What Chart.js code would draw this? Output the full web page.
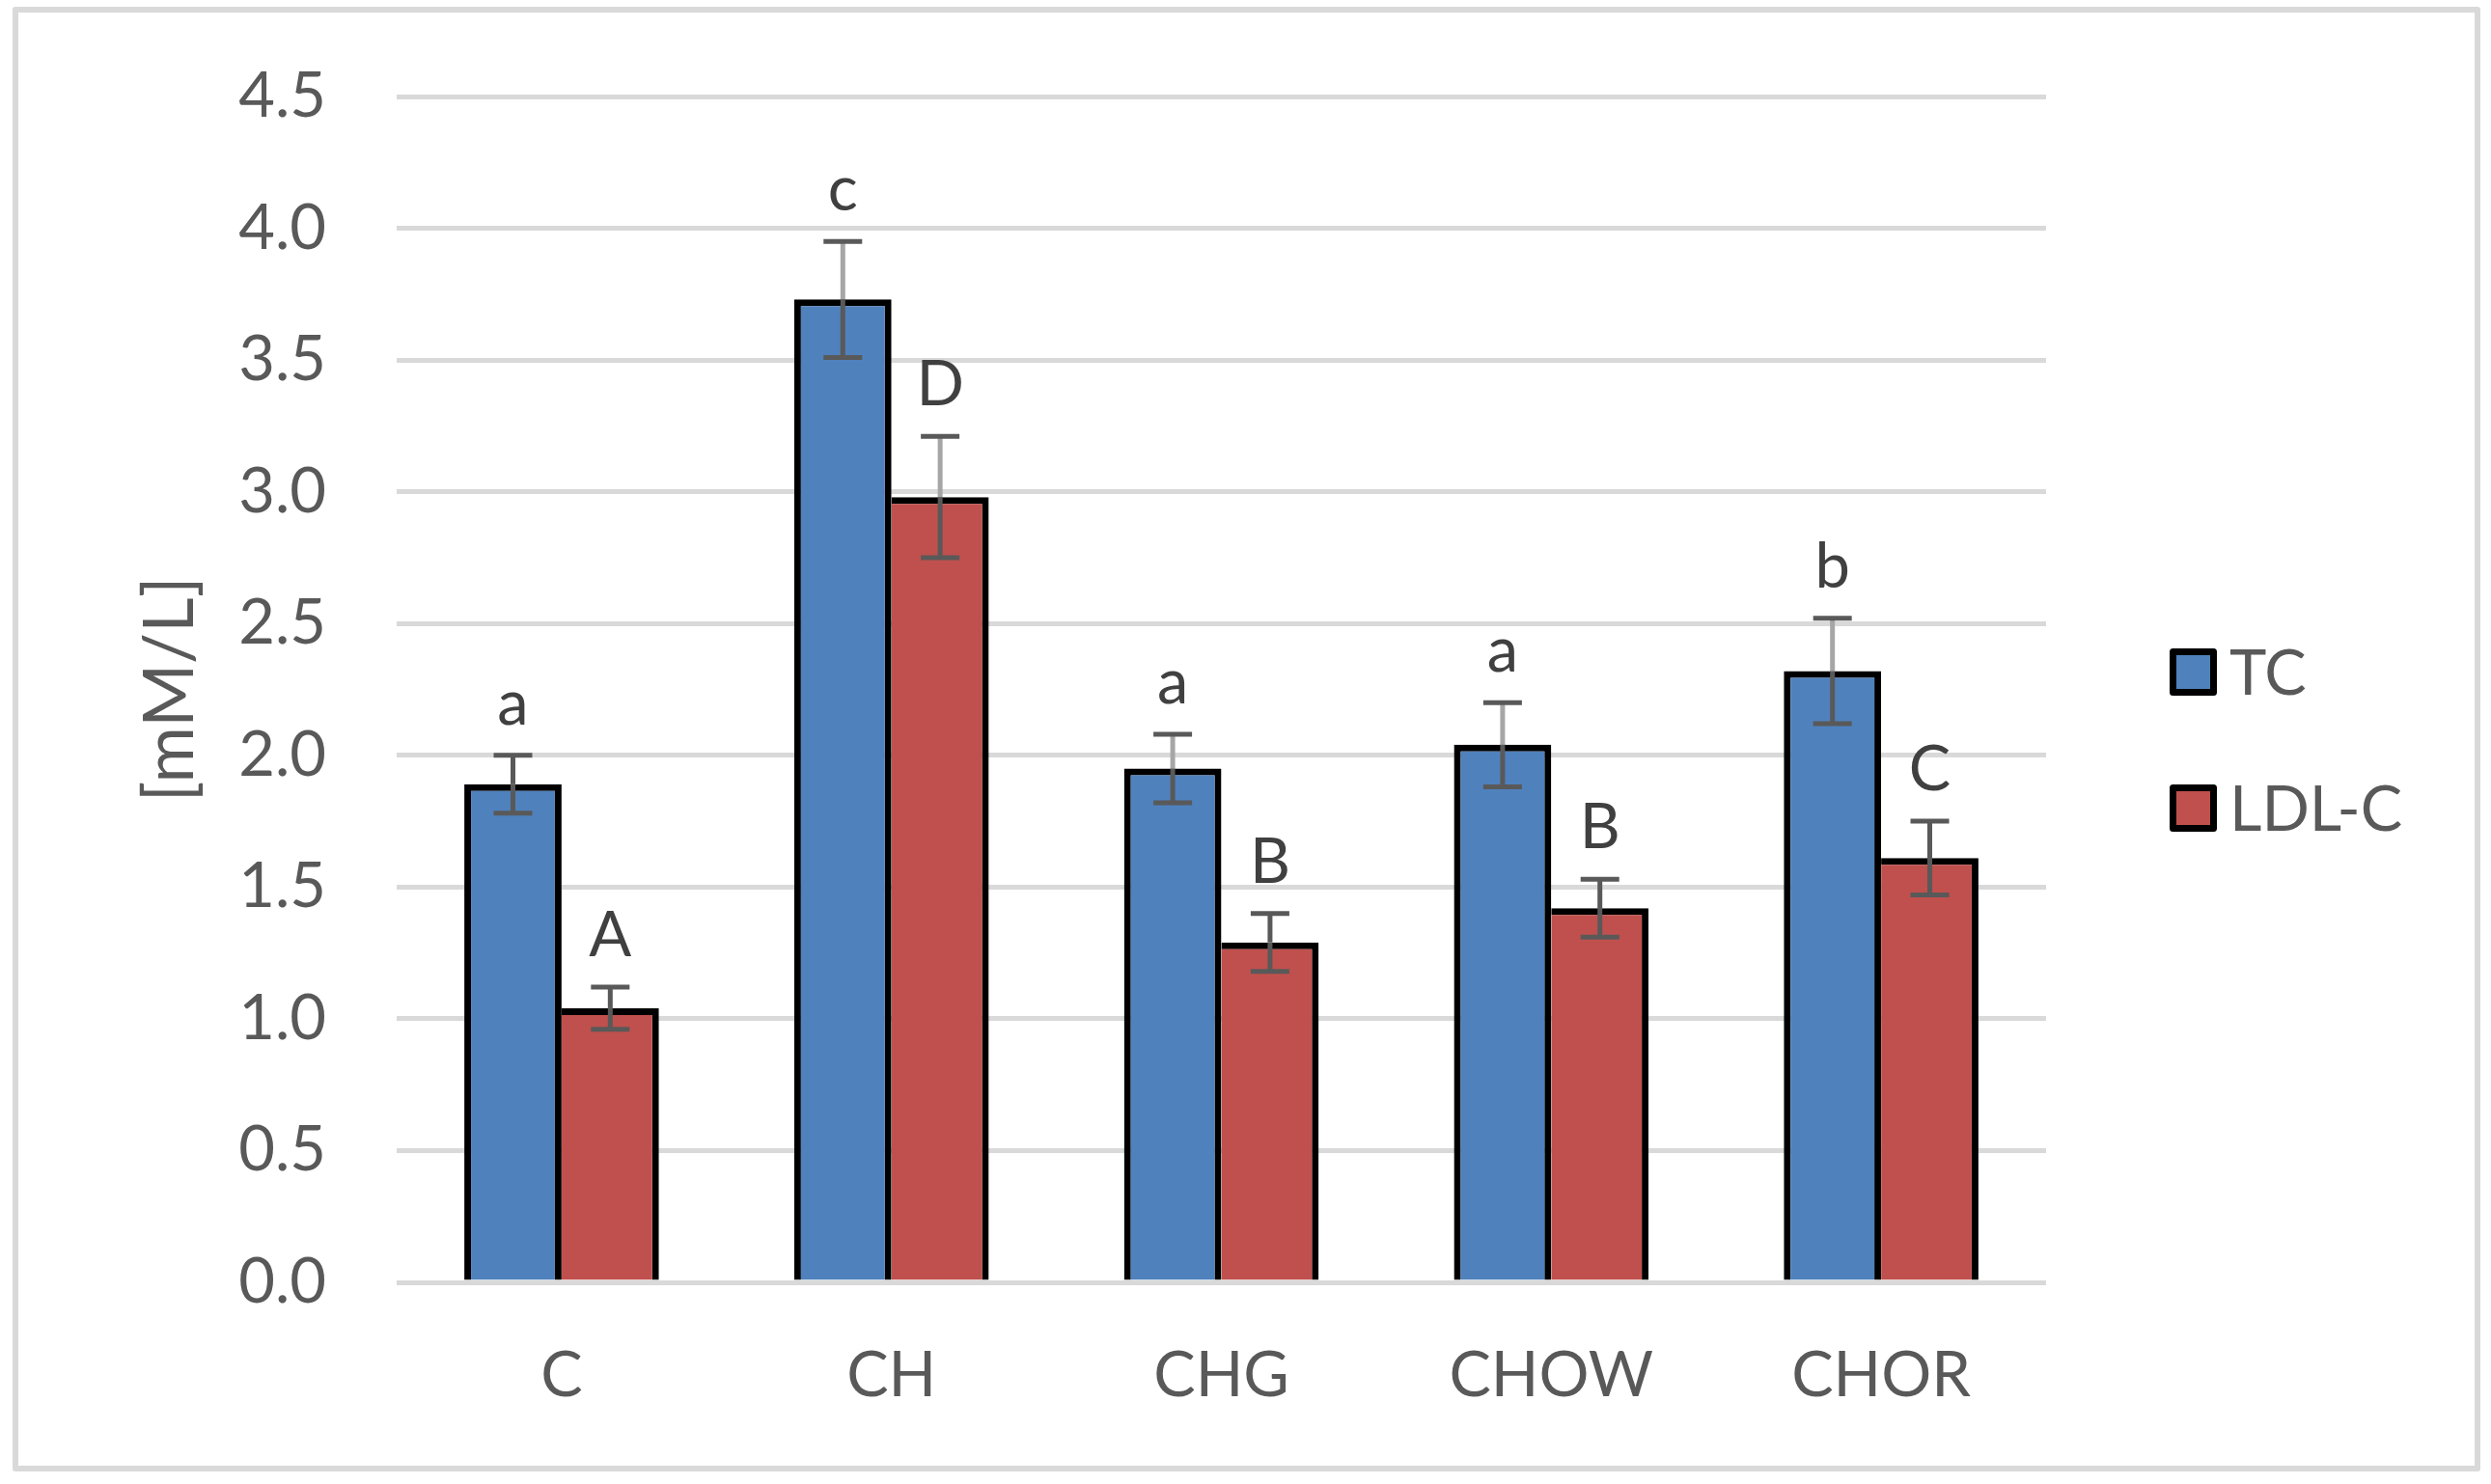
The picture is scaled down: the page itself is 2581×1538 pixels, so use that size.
<!DOCTYPE html>
<html>
<head>
    <title>TC / LDL-C</title>
    <script src="https://cdn.jsdelivr.net/npm/chart.js"></script>
    <style>
        html, body { margin: 0; padding: 0; background: #fff; }
        .chart-box { width: 2581px; height: 1538px; }
    </style>
</head>
<body>
    <div class="chart-box">
        <canvas id="lipidChart" width="2581" height="1538"></canvas>
    </div>

<script>
// 数据
const groups = ['C', 'CH', 'CHG', 'CHOW', 'CHOR'];
const tcMean = [1.89, 3.73, 1.95, 2.04, 2.32];
const tcErr = [0.11, 0.22, 0.13, 0.16, 0.20];
const tcLetters = ['a', 'c', 'a', 'a', 'b'];
const ldlMean = [1.04, 2.98, 1.29, 1.42, 1.61];
const ldlErr = [0.08, 0.23, 0.11, 0.11, 0.14];
const ldlLetters = ['A', 'D', 'B', 'B', 'C'];
const yMin = 0, yMax = 4.5, yStep = 0.5;

// 误差线上半段是否为浅灰色（仅样式）
const lightStem = [[false, true, true, true, true], [false, true, false, false, false]];

const tickColor = '#595959';
const gridColor = '#d9d9d9';

// 外框 + 白底
const framePlugin = {
    id: 'frame',
    beforeDraw(chart) {
        const ctx = chart.ctx;
        ctx.save();
        ctx.fillStyle = '#fff';
        ctx.fillRect(0, 0, chart.width, chart.height);
        ctx.strokeStyle = gridColor;
        ctx.lineWidth = 6;
        ctx.lineJoin = 'round';
        ctx.strokeRect(16, 10, 2551, 1512);
        ctx.restore();
    }
};

// 误差线和显著性字母
const errorPlugin = {
    id: 'errorBars',
    afterDatasetsDraw(chart) {
        const ctx = chart.ctx;
        const y = chart.scales.y;
        const errs = [tcErr, ldlErr];
        const letters = [tcLetters, ldlLetters];
        ctx.save();
        chart.data.datasets.forEach((ds, di) => {
            const meta = chart.getDatasetMeta(di);
            meta.data.forEach((bar, i) => {
                const x = bar.x;
                const v = ds.data[i];
                const yTop = y.getPixelForValue(v + errs[di][i]);
                const yBot = y.getPixelForValue(v - errs[di][i]);
                const yBar = y.getPixelForValue(v);
                ctx.lineWidth = 5;
                ctx.strokeStyle = lightStem[di][i] ? '#a6a6a6' : tickColor;
                ctx.beginPath();
                ctx.moveTo(x, yTop);
                ctx.lineTo(x, yBar);
                ctx.stroke();
                ctx.strokeStyle = tickColor;
                ctx.beginPath();
                ctx.moveTo(x, yBar);
                ctx.lineTo(x, yBot);
                ctx.moveTo(x - 20, yTop);
                ctx.lineTo(x + 20, yTop);
                ctx.moveTo(x - 20, yBot);
                ctx.lineTo(x + 20, yBot);
                ctx.stroke();

                ctx.fillStyle = '#404040';
                ctx.font = '65px Lato';
                ctx.textAlign = 'center';
                ctx.textBaseline = 'alphabetic';
                ctx.fillText(letters[di][i], x, yTop - 32);
            });
        });
        ctx.restore();
    }
};

// 右侧图例
const legendPlugin = {
    id: 'sideLegend',
    afterDraw(chart) {
        const ctx = chart.ctx;
        ctx.save();
        chart.data.datasets.forEach((ds, di) => {
            const top = 672 + di * 141;
            ctx.fillStyle = ds.backgroundColor;
            ctx.fillRect(2251, top + 3, 43, 43);
            ctx.strokeStyle = '#000';
            ctx.lineWidth = 7;
            ctx.lineJoin = 'round';
            ctx.strokeRect(2251.5, top + 3.5, 42, 42);
            ctx.fillStyle = tickColor;
            ctx.font = '65px Lato';
            ctx.textAlign = 'left';
            ctx.textBaseline = 'middle';
            ctx.fillText(ds.label, 2310, top + 27);
        });
        ctx.restore();
    }
};

window.onload = () => {
    Chart.defaults.font.family = 'Lato';
    Chart.defaults.color = tickColor;

    new Chart(document.getElementById('lipidChart').getContext('2d'), {
        type: 'bar',
        data: {
            labels: groups,
            datasets: [{
                label: 'TC',
                data: tcMean,
                backgroundColor: '#4f81bd',
                borderColor: '#000',
                borderWidth: { top: 7, left: 7, right: 7, bottom: 0 },
                borderSkipped: false
            }, {
                label: 'LDL-C',
                data: ldlMean,
                backgroundColor: '#c0504d',
                borderColor: '#000',
                borderWidth: { top: 7, left: 0, right: 7, bottom: 0 },
                borderSkipped: false
            }]
        },
        options: {
            responsive: false,
            animation: false,
            categoryPercentage: 0.59,
            barPercentage: 1.0,
            layout: { padding: { left: 0, right: 461, top: 100, bottom: 0 } },
            plugins: {
                legend: { display: false },
                tooltip: { enabled: false }
            },
            scales: {
                x: {
                    grid: { display: false, drawTicks: false },
                    border: { display: false },
                    ticks: { font: { size: 65 }, color: tickColor, padding: 58 },
                    afterFit(scale) {
                        scale.height = 209;
                        scale.paddingLeft = 0;
                        scale.paddingRight = 0;
                    }
                },
                y: {
                    min: yMin,
                    max: yMax,
                    grid: { color: gridColor, lineWidth: 5, drawTicks: false },
                    border: { display: false },
                    ticks: {
                        stepSize: yStep,
                        font: { size: 65 },
                        color: tickColor,
                        padding: 73,
                        callback: (v) => Number(v).toFixed(1)
                    },
                    title: {
                        display: true,
                        text: '[mM/L]',
                        color: tickColor,
                        font: { size: 71 },
                        padding: { top: 135, bottom: 0 }
                    },
                    afterFit(scale) {
                        scale.width = 411;
                        scale.paddingTop = 0;
                        scale.paddingBottom = 0;
                    }
                }
            }
        },
        plugins: [framePlugin, errorPlugin, legendPlugin]
    });
};
</script>
</body>
</html>
